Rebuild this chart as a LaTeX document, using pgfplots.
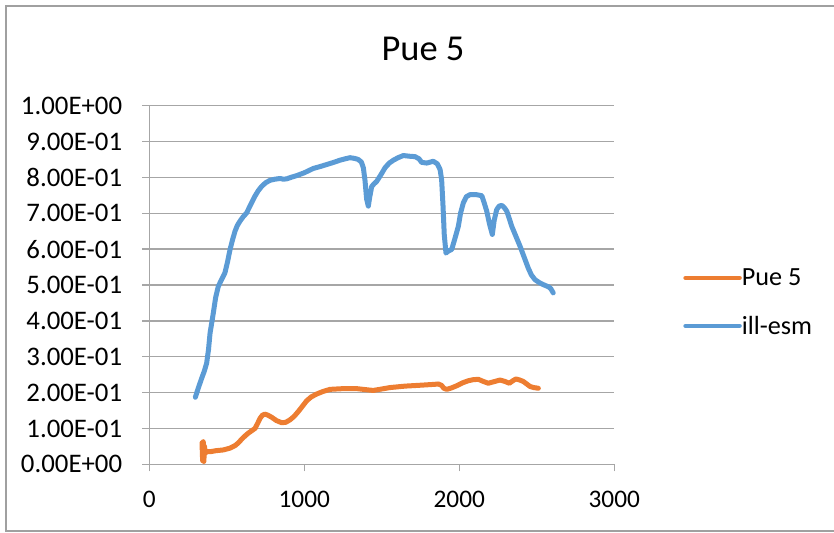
\documentclass[border=0pt]{standalone}
\usepackage{pgfplots}
\pgfplotsset{compat=1.18}
\usepackage{fontspec}
\setmainfont{Carlito}
\definecolor{exblue}{HTML}{5B9BD5}
\definecolor{exorange}{HTML}{ED7D31}
\definecolor{gridgray}{HTML}{A6A6A6}
\definecolor{bordergray}{HTML}{A0A0A0}
\begin{document}
\begin{tikzpicture}[x=1pt,y=1pt]
\useasboundingbox (0,0) rectangle (834,532);
\draw[bordergray, line width=1.5pt] (834,526) -- (6,526) -- (6,1) -- (834,1);
\node[anchor=base, font=\fontsize{36.5}{40}\selectfont] at (423,471.3) {Pue 5};
\begin{axis}[
  at={(149.3pt,67.7pt)}, anchor=south west,
  scale only axis, width=465pt, height=358.6pt,
  xmin=0, xmax=3000, ymin=0, ymax=1,
  axis lines*=left,
  axis line style={gridgray, line width=1.3pt},
  xtick={0,1000,2000,3000}, xticklabels={0,1000,2000,3000},
  ytick={0,0.1,0.2,0.3,0.4,0.5,0.6,0.7,0.8,0.9,1},
  yticklabels={0.00E+00,1.00E-01,2.00E-01,3.00E-01,4.00E-01,5.00E-01,6.00E-01,7.00E-01,8.00E-01,9.00E-01,1.00E+00},
  tick align=outside, major tick length=7pt,
  tick style={gridgray, line width=1.3pt},
  ymajorgrids, major grid style={gridgray, line width=1.3pt},
  yticklabel style={font=\fontsize{26.8}{30}\selectfont, anchor=east, inner sep=0pt, xshift=-20pt},
  xticklabel style={font=\fontsize{25.3}{29}\selectfont, anchor=north, inner sep=0pt, yshift=-20pt},
  clip=false,
  legend style={at={(1.148,0.452)}, anchor=west, draw=none, fill=none, inner sep=0pt,
    font=\fontsize{26.2}{29}\selectfont, row sep=29pt,
    nodes={inner sep=0pt, outer sep=0pt}},
  legend cell align=left,
  legend image code/.code={\draw[#1, line width=4.5pt] (-2pt,0pt) -- (52pt,0pt);},
]
\addplot[exorange, line width=5pt, line join=round, line cap=round] coordinates {
(340,0.06)(344,0.01)(348,0.063)(352,0.008)(356,0.05)(360,0.03)(370,0.036)(392,0.035)(430,0.038)(477,0.040)(520,0.045)(553,0.052)(575,0.060)(596,0.070)(620,0.080)(639,0.087)(662,0.094)(682,0.100)(700,0.115)(714,0.128)(730,0.137)(746,0.140)(765,0.137)(790,0.131)(820,0.122)(854,0.116)(880,0.117)(908,0.124)(935,0.134)(961,0.147)(990,0.163)(1015,0.177)(1045,0.188)(1080,0.196)(1120,0.203)(1166,0.209)(1250,0.211)(1338,0.211)(1400,0.208)(1445,0.206)(1500,0.210)(1553,0.214)(1650,0.218)(1768,0.221)(1840,0.223)(1865,0.224)(1886,0.220)(1900,0.212)(1919,0.209)(1950,0.213)(1983,0.219)(2020,0.227)(2058,0.233)(2090,0.236)(2123,0.237)(2150,0.232)(2187,0.226)(2220,0.230)(2263,0.235)(2295,0.231)(2323,0.226)(2345,0.233)(2366,0.238)(2390,0.235)(2413,0.231)(2435,0.224)(2456,0.217)(2480,0.214)(2510,0.212)
};
\addlegendentry{Pue 5}
\addplot[exblue, line width=5pt, line join=round, line cap=round] coordinates {
(297,0.187)(318,0.215)(338,0.240)(355,0.260)(370,0.282)(382,0.320)(392,0.366)(403,0.395)(413,0.422)(428,0.465)(445,0.496)(466,0.515)(488,0.534)(505,0.565)(521,0.599)(537,0.626)(553,0.650)(568,0.666)(585,0.678)(605,0.690)(628,0.701)(655,0.725)(682,0.748)(703,0.763)(725,0.775)(750,0.785)(779,0.792)(810,0.795)(843,0.797)(866,0.795)(886,0.796)(920,0.801)(951,0.805)(1000,0.813)(1058,0.825)(1100,0.830)(1145,0.836)(1190,0.842)(1230,0.848)(1265,0.852)(1295,0.855)(1325,0.853)(1348,0.850)(1368,0.843)(1381,0.827)(1392,0.790)(1402,0.740)(1413,0.720)(1422,0.745)(1435,0.775)(1450,0.782)(1467,0.789)(1495,0.808)(1521,0.827)(1548,0.840)(1575,0.848)(1605,0.855)(1639,0.861)(1680,0.859)(1714,0.858)(1740,0.852)(1757,0.842)(1790,0.840)(1832,0.845)(1858,0.838)(1876,0.822)(1886,0.794)(1895,0.720)(1903,0.640)(1914,0.589)(1930,0.595)(1951,0.599)(1972,0.630)(1994,0.664)(2008,0.700)(2026,0.729)(2045,0.746)(2069,0.752)(2110,0.752)(2145,0.749)(2160,0.730)(2177,0.706)(2195,0.670)(2213,0.641)(2225,0.680)(2241,0.710)(2257,0.720)(2274,0.722)(2290,0.716)(2306,0.706)(2322,0.686)(2338,0.664)(2365,0.636)(2392,0.608)(2418,0.578)(2445,0.547)(2465,0.528)(2488,0.515)(2515,0.507)(2542,0.501)(2575,0.495)(2590,0.490)(2606,0.478)
};
\addlegendentry{ill-esm}
\end{axis}
\end{tikzpicture}
\end{document}
